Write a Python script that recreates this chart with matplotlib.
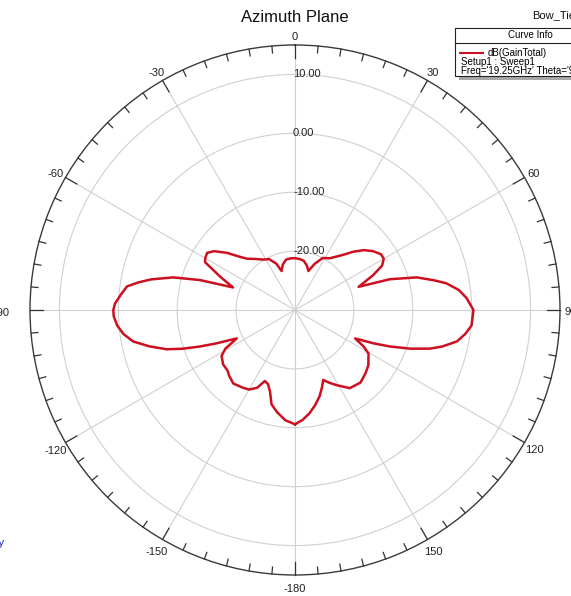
import numpy as np
import matplotlib
matplotlib.use('Agg')
import matplotlib.pyplot as plt
import matplotlib.transforms as mtransforms
from matplotlib.patches import Rectangle
from matplotlib.lines import Line2D

plt.rcParams['font.family'] = ['Liberation Sans', 'DejaVu Sans']

# gain pattern (phi in degrees, dB)
phi_deg = [-180, -175, -170, -166, -163, -160, -157, -154, -150, -146,
           -140, -135, -132, -127, -122, -119, -116, -113, -111, -109,
           -107, -104, -101, -98, -95, -92, -90, -88, -85, -82,
           -80, -78, -75, -72.5, -70, -66, -62, -60, -57, -54,
           -50, -46, -43, -38, -32, -27, -22, -19, -15, -10,
           -5, 0, 5, 10, 15, 19, 23, 28, 34, 41,
           45, 49, 53, 57, 60, 63, 66, 70, 72, 75,
           78, 80, 83, 86, 90, 95, 98, 101, 104, 106,
           108.5, 111, 113, 115.3, 118, 120.6, 127, 132, 138, 145,
           151, 155, 158, 161, 164, 168, 172, 176, 180]
gain_db = [-10.6, -11.2, -12.4, -13.5, -15.5, -16.6, -16.9, -15.3, -14.4, -14.1,
           -13.7, -14.2, -14.6, -14.7, -15.3, -16.5, -19.0, -15.5, -12.7, -9.8,
           -7.2, -4.5, -2.0, -0.6, 0.3, 0.8, 0.85, 0.6, -0.3, -1.2,
           -3.0, -5.0, -8.6, -13.1, -18.8, -16.1, -12.7, -12.4, -12.2, -13.0,
           -14.9, -17.0, -18.1, -19.0, -19.9, -20.3, -21.5, -23.0, -22.0, -21.3,
           -21.2, -21.2, -21.3, -21.5, -22.2, -23.0, -21.5, -20.0, -19.4, -17.6,
           -16.0, -14.5, -13.4, -12.6, -12.6, -13.4, -15.5, -18.5, -13.1, -8.6,
           -5.8, -3.9, -2.0, -0.8, 0.3, 0.1, -0.8, -2.0, -4.3, -6.2,
           -9.3, -12.7, -15.5, -18.7, -16.8, -15.5, -14.4, -13.9, -13.4, -13.8,
           -15.4, -16.4, -17.2, -16.0, -14.8, -13.5, -12.3, -11.3, -10.6]

ring_values = [-20, -10, 0, 10]
angle_ticks = [0, 30, 60, 90, 120, 150, 180, 210, 240, 270, 300, 330]
angle_labels = ['0', '30', '60', '90', '120', '150', '-180', '-150', '-120', '-90', '-60', '-30']

W, H = 571, 596
CX, CY, R = 295, 310, 265
RMIN, RMAX = -30, 15


def px2db(p):
    return RMIN + p / R * (RMAX - RMIN)


fig = plt.figure(figsize=(W / 100, H / 100), dpi=100)
ax = fig.add_axes([(CX - R) / W, (H - CY - R) / H, 2 * R / W, 2 * R / H], projection='polar')
ax.set_theta_zero_location('N')
ax.set_theta_direction(-1)
ax.set_ylim(RMIN, RMAX)
ax.set_thetagrids(angle_ticks, labels=[])
ax.set_rgrids(ring_values, labels=[])
ax.grid(color='#d0d0d0', lw=0.8)
ax.tick_params(length=0)
ax.spines['polar'].set_color('#3a3a3a')
ax.spines['polar'].set_linewidth(1.0)

ax.plot(np.deg2rad(phi_deg), gain_db, color='#cc1020', lw=1.8)

# ticks on the outer circle
for a in range(0, 360, 5):
    L = 13 if a % 30 == 0 else 7
    ax.plot([np.deg2rad(a)] * 2, [RMAX, px2db(R - L)], color='#333333', lw=0.9, clip_on=False)

# angle labels (nudged down a couple of pixels like the original)
down = mtransforms.ScaledTranslation(0, -2.5 / 100, fig.dpi_scale_trans)
for a, lab in zip(angle_ticks, angle_labels):
    rp = 293 if a == 270 else 276
    ax.text(np.deg2rad(a), px2db(rp), lab, ha='center', va='center', fontsize=8,
            color='#222222', clip_on=False, transform=ax.transData + down)

# radial labels
left = mtransforms.ScaledTranslation(-2 / 100, 0, fig.dpi_scale_trans)
for v in ring_values:
    ax.text(0, v, f'{v:.2f}', ha='left', va='center', fontsize=8, color='#222222',
            transform=ax.transData + left)

# title and design name
fig.text(295 / W, 1 - 17 / H, 'Azimuth Plane', ha='center', va='center', fontsize=12, color='#111111')
fig.text(532 / W, 1 - 15 / H, 'Bow_Tie', ha='left', va='center', fontsize=8, color='#111111')
fig.text(4 / W, 1 - 543 / H, 'ly', ha='right', va='center', fontsize=8, color='#1020c0')

# curve info box


def fx(x):
    return x / W


def fy(y):
    return 1 - y / H


fig.patches.append(Rectangle((fx(459), fy(80)), fx(200), 48 / H, transform=fig.transFigure,
                             facecolor='#a8a8a8', edgecolor='none', zorder=5))
fig.patches.append(Rectangle((fx(455), fy(76)), fx(200), 48 / H, transform=fig.transFigure,
                             facecolor='white', edgecolor='#222222', lw=0.8, zorder=6))
fig.lines.append(Line2D([fx(455), 1], [fy(43), fy(43)], transform=fig.transFigure,
                        color='#222222', lw=0.8, zorder=7))
fig.lines.append(Line2D([fx(460), fx(483)], [fy(52.5), fy(52.5)], transform=fig.transFigure,
                        color='#cc1020', lw=1.5, zorder=7))
fig.text(fx(530), fy(35.5), 'Curve Info', ha='center', va='center', fontsize=7, zorder=8)
fig.text(fx(488), fy(52.5), 'dB(GainTotal)', ha='left', va='center', fontsize=7, zorder=8)
fig.text(fx(461), fy(62), 'Setup1 : Sweep1', ha='left', va='center', fontsize=7, zorder=8)
fig.text(fx(461), fy(71.5), "Freq='19.25GHz' Theta='90deg'", ha='left', va='center', fontsize=7, zorder=8)

fig.savefig('out.png', dpi=100)
